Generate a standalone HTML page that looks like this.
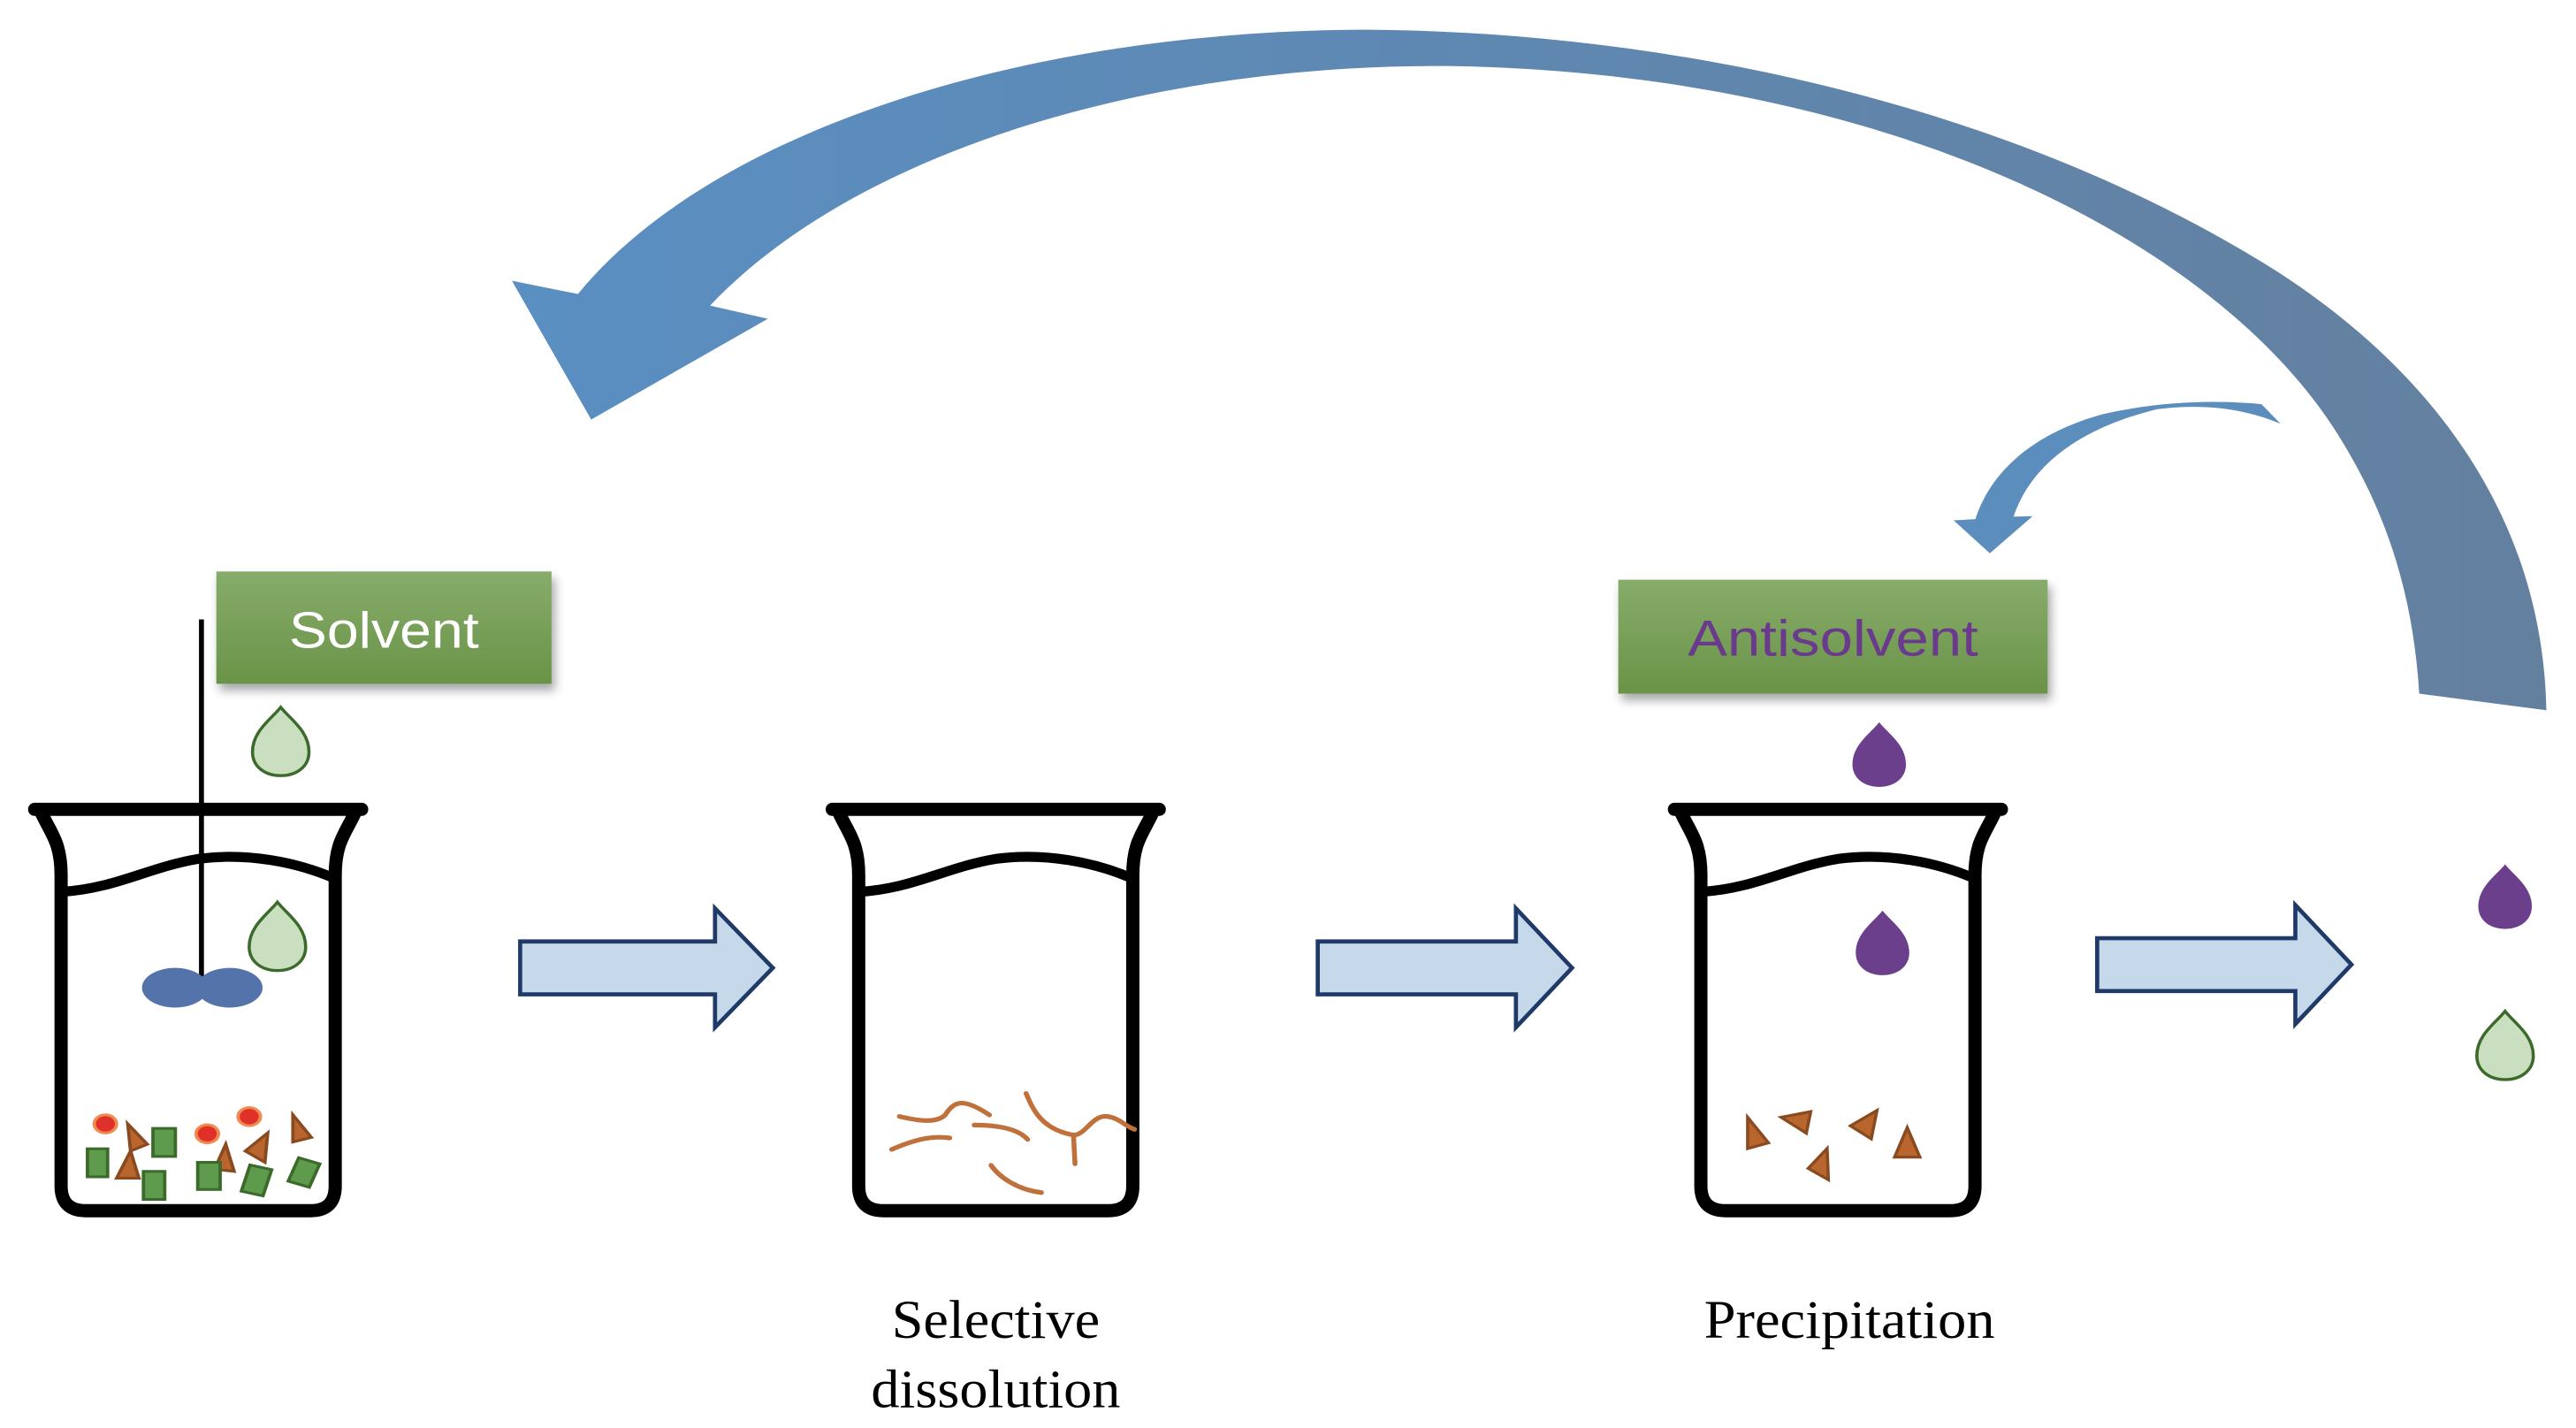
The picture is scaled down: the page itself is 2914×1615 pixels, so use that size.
<!DOCTYPE html>
<html><head><meta charset="utf-8">
<style>html,body{margin:0;padding:0;background:#fff;}svg{display:block;}</style>
</head><body>
<svg width="2914" height="1615" viewBox="0 0 2914 1615" xmlns="http://www.w3.org/2000/svg">
<defs>
<linearGradient id="big" x1="0" y1="0" x2="1" y2="0">
<stop offset="0" stop-color="#5a8fc2"/><stop offset="1" stop-color="#64809f"/>
</linearGradient>
<linearGradient id="grn" x1="0" y1="0" x2="0" y2="1">
<stop offset="0" stop-color="#87ac6b"/><stop offset="1" stop-color="#6a9347"/>
</linearGradient>
<filter id="sh" x="-10%" y="-20%" width="130%" height="160%">
<feDropShadow dx="2" dy="4" stdDeviation="3" flood-color="#000" flood-opacity="0.35"/>
</filter>
<g id="beaker">
<path d="M21,490 L219,490" stroke="#000" stroke-width="8" stroke-linecap="round" fill="none"/>
<path d="M25,492 C31,505 37,510 37,530 L37,718 Q37,733 52,733 L188,733 Q203,733 203,718 L203,530 C203,510 209,505 215,492" stroke="#000" stroke-width="8" fill="none"/>
<path d="M37,540 C70,538 90,525 120,520 C150,516 180,522 203,532" stroke="#000" stroke-width="6" fill="none"/>
</g>
<path id="drop" d="M0,-22 C6,-14 18,-6 18,8 C18,18 10,24 0,24 C-10,24 -18,18 -18,8 C-18,-6 -6,-14 0,-22 Z"/>
</defs>
<g transform="scale(1.868)">
<!-- big arrow -->
<path d="M1542,430 C1540,320 1480,230 1380,165 C1230,70 1030,20 830,18 C620,18 430,80 350,178 L310,170 L358,254 L465,193 L430,185 C520,90 700,38 880,40 C1150,45 1350,150 1420,270 C1450,320 1462,370 1465,420 Z" fill="url(#big)"/>
<!-- small arrow -->
<g transform="translate(1205,335) scale(0.165,0.148) translate(-183,-730)">
<path d="M1180,120 C1000,100 800,110 600,160 C400,220 200,350 130,590 L50,595 L183,730 L340,578 L270,580 C330,380 500,220 800,140 C950,120 1100,130 1250,200 Z" fill="#5b8dbd"/>
</g>
<!-- boxes -->
<rect x="131" y="346" width="203" height="68" fill="url(#grn)" filter="url(#sh)"/>
<text x="232.5" y="392" font-family="Liberation Sans, sans-serif" font-size="31" fill="#fff" text-anchor="middle" textLength="115" lengthAdjust="spacingAndGlyphs">Solvent</text>
<rect x="980" y="351" width="260" height="69" fill="url(#grn)" filter="url(#sh)"/>
<text x="1110" y="397" font-family="Liberation Sans, sans-serif" font-size="31" fill="#6a3a8c" text-anchor="middle" textLength="176" lengthAdjust="spacingAndGlyphs">Antisolvent</text>
<!-- beakers -->
<use href="#beaker"/>
<use href="#beaker" transform="translate(483,0)"/>
<use href="#beaker" transform="translate(993,0)"/>
<!-- stirrer -->
<line x1="122" y1="375" x2="122" y2="598" stroke="#000" stroke-width="3"/>
<ellipse cx="106" cy="598" rx="20" ry="12" fill="#5473ab"/>
<ellipse cx="139" cy="598" rx="20" ry="12" fill="#5473ab"/>
<!-- drops -->
<use href="#drop" transform="translate(170,448) scale(0.95,0.9)" fill="#c9dfbf" stroke="#3b6a2b" stroke-width="2"/>
<use href="#drop" transform="translate(168,566) scale(0.95,0.9)" fill="#c9dfbf" stroke="#3b6a2b" stroke-width="2"/>
<use href="#drop" transform="translate(1517,632) scale(0.95,0.9)" fill="#c9dfbf" stroke="#3b6a2b" stroke-width="2"/>
<use href="#drop" transform="translate(1138,456) scale(0.9,0.85)" fill="#6b3f8c"/>
<use href="#drop" transform="translate(1140,570) scale(0.9,0.85)" fill="#6b3f8c"/>
<use href="#drop" transform="translate(1517,542) scale(0.9,0.85)" fill="#6b3f8c"/>
<!-- particles beaker1 -->
<g transform="translate(35,490) scale(0.339,0.274) translate(-95,-605)" stroke-width="6">
<circle cx="180" cy="1300" r="20" fill="#e0302a" stroke="#f08a50"/>
<circle cx="362" cy="1322" r="20" fill="#e0302a" stroke="#f08a50"/>
<circle cx="437" cy="1284" r="20" fill="#e0302a" stroke="#f08a50"/>
<g fill="#b8662e" stroke="#8a4a20">
<polygon points="220,1300 255,1345 225,1360"/>
<polygon points="200,1420 225,1360 240,1420"/>
<polygon points="375,1400 395,1345 410,1405"/>
<polygon points="430,1360 470,1320 465,1385"/>
<polygon points="515,1280 548,1330 515,1340"/>
</g>
<g fill="#5e9b4c" stroke="#3b6a2b">
<rect x="148" y="1355" width="36" height="62"/>
<rect x="265" y="1310" width="40" height="62"/>
<rect x="248" y="1405" width="38" height="62"/>
<rect x="345" y="1385" width="40" height="60"/>
<rect x="430" y="1395" width="40" height="60" transform="rotate(15 450 1425)"/>
<rect x="515" y="1380" width="40" height="55" transform="rotate(20 535 1407)"/>
</g>
</g>
<!-- squiggles beaker2 -->
<g transform="translate(540,662) scale(0.185,0.174) translate(-65,-85)" fill="none" stroke="#c0703a" stroke-width="16" stroke-linecap="round">
<path d="M90,165 C150,180 210,190 240,160 C270,110 300,100 385,160"/>
<path d="M65,280 C130,250 190,230 255,240"/>
<path d="M335,195 C420,195 480,210 510,245"/>
<path d="M505,85 C530,150 560,210 660,230 C700,230 720,160 770,165 C810,170 830,200 860,210"/>
<path d="M660,230 L665,330"/>
<path d="M390,335 C420,380 480,420 555,430"/>
</g>
<!-- triangles beaker3 -->
<g transform="translate(1027,490) scale(0.382,0.344) translate(-150,-488)" fill="#b8662e" stroke="#8a4a20" stroke-width="5">
<polygon points="232,1030 265,1075 232,1085"/>
<polygon points="285,1030 332,1020 325,1058"/>
<polygon points="395,1045 437,1018 428,1068"/>
<polygon points="328,1120 358,1085 360,1140"/>
<polygon points="465,1100 485,1048 505,1100"/>
</g>
<!-- block arrows -->
<g fill="#c6d9ea" stroke="#1f3a68" stroke-width="2.5">
<path d="M315,570 L433,570 L433,550 L468,586 L433,622 L433,602 L315,602 Z"/>
<path d="M798,570 L918,570 L918,550 L952,586 L918,622 L918,602 L798,602 Z"/>
<path d="M1270,568 L1390,568 L1390,548 L1424,584 L1390,620 L1390,600 L1270,600 Z"/>
</g>
<!-- labels -->
<g font-family="Liberation Serif, serif" font-size="33" fill="#000" text-anchor="middle">
<text x="603" y="810" textLength="126" lengthAdjust="spacingAndGlyphs">Selective</text>
<text x="603" y="852" textLength="151" lengthAdjust="spacingAndGlyphs">dissolution</text>
<text x="1120" y="810" textLength="176" lengthAdjust="spacingAndGlyphs">Precipitation</text>
</g>
</g>
</svg>
</body></html>
